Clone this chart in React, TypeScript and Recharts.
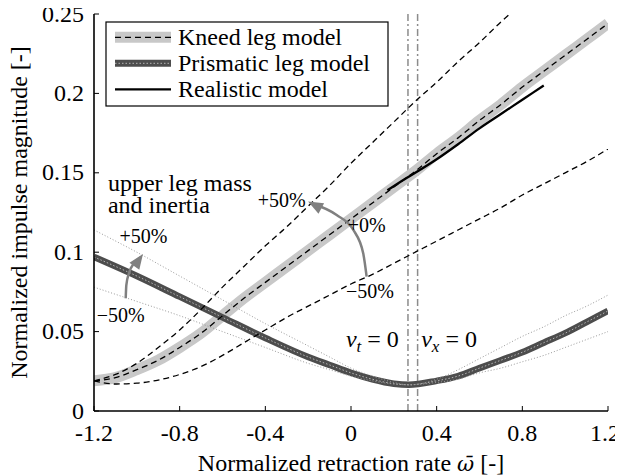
import React from 'react';
import { LineChart, Line, XAxis, YAxis, ReferenceLine, ReferenceDot, Label } from 'recharts';

const FONT = 'Liberation Serif';
const FS = 24;
const FS_SMALL = 20;

// ---- axis ticks ----
const xTicks = [-1.2, -0.8, -0.4, 0, 0.4, 0.8, 1.2];
const xTickLabels = ['-1.2', '-0.8', '-0.4', '0', '0.4', '0.8', '1.2'];
const yTicks = [0, 0.05, 0.1, 0.15, 0.2, 0.25];
const yTickLabels = ['0', '0.05', '0.1', '0.15', '0.2', '0.25'];

// ---- kneed leg model ----
const kneedX = [-1.2, -1.1, -1.0, -0.9, -0.8, -0.7, -0.6, -0.5, -0.4, -0.3, -0.2, -0.1, 0, 0.1, 0.2, 0.3, 0.4, 0.5, 0.6, 0.7, 0.8, 0.9, 1.0, 1.1, 1.2];
const kneedNominal = [0.019, 0.021, 0.026, 0.032, 0.040, 0.049, 0.060, 0.071, 0.081, 0.091, 0.101, 0.111, 0.121, 0.131, 0.141, 0.151, 0.162, 0.172, 0.183, 0.193, 0.204, 0.214, 0.224, 0.234, 0.244];
const kneedPlus50 = [0.019, 0.023, 0.030, 0.040, 0.051, 0.064, 0.078, 0.091, 0.104, 0.116, 0.129, 0.142, 0.156, 0.169, 0.182, 0.195, 0.207, 0.220, 0.232, 0.245, 0.257];
const kneedMinus50 = [0.019, 0.017, 0.0175, 0.0195, 0.023, 0.028, 0.035, 0.043, 0.051, 0.059, 0.066, 0.073, 0.080, 0.086, 0.093, 0.100, 0.107, 0.114, 0.121, 0.128, 0.136, 0.143, 0.150, 0.157, 0.165];

// ---- prismatic leg model ----
const prisX = [-1.2, -1.0, -0.8, -0.6, -0.4, -0.2, -0.1, 0, 0.1, 0.2, 0.27, 0.4, 0.5, 0.6, 0.7, 0.8, 0.9, 1.0, 1.1, 1.2];
const prisNominal = [0.097, 0.085, 0.072, 0.059, 0.046, 0.034, 0.029, 0.024, 0.020, 0.0172, 0.0165, 0.019, 0.022, 0.027, 0.032, 0.037, 0.043, 0.049, 0.056, 0.063];
const prisPlus50 = [0.114, 0.100, 0.085, 0.070, 0.055, 0.041, 0.034, 0.027, 0.022, 0.018, 0.0165, 0.020, 0.026, 0.033, 0.040, 0.047, 0.053, 0.060, 0.066, 0.073];
const prisMinus50 = [0.078, 0.069, 0.060, 0.050, 0.040, 0.030, 0.026, 0.022, 0.019, 0.017, 0.0165, 0.018, 0.020, 0.024, 0.027, 0.031, 0.035, 0.040, 0.045, 0.050];

// ---- realistic model ----
const realX = [0.17, 0.25, 0.3, 0.4, 0.5, 0.6, 0.7, 0.8, 0.9];
const realY = [0.139, 0.146, 0.150, 0.1585, 0.168, 0.178, 0.187, 0.196, 0.205];

// ---- velocity-zero markers ----
const vtZero = 0.266;
const vxZero = 0.311;

// ---- annotation arrows ----
const arrowPrisX = [-1.052, -1.049, -1.037, -1.013, -0.982];
const arrowPrisY = [0.071, 0.0793, 0.0867, 0.093, 0.0968];
const arrowKneedX = [0.073, 0.057, 0.011, -0.067, -0.184];
const arrowKneedY = [0.0846, 0.0993, 0.114, 0.1234, 0.1308];

const legendNames = ['Kneed leg model', 'Prismatic leg model', 'Realistic model'];

const zip = (xs: number[], ys: number[]) =>
  ys.map((y, i) => ({ x: xs[i], y }));

const kneedNomData = zip(kneedX, kneedNominal);
const kneedPlusData = zip(kneedX, kneedPlus50);
const kneedMinusData = zip(kneedX, kneedMinus50);
const prisNomData = zip(prisX, prisNominal);
const prisPlusData = zip(prisX, prisPlus50);
const prisMinusData = zip(prisX, prisMinus50);
const realData = zip(realX, realY);
const arrowPrisData = zip(arrowPrisX, arrowPrisY);
const arrowKneedData = zip(arrowKneedX, arrowKneedY);

const XTick = (props: any) => {
  const { x, y, payload } = props;
  const i = xTicks.indexOf(payload.value);
  const nudge = i === xTicks.length - 1 ? -3 : 0;
  return (
    <text x={x + nudge} y={y + 30} textAnchor="middle" fontFamily={FONT} fontSize={FS} fill="#000">
      {i >= 0 ? xTickLabels[i] : payload.value}
    </text>
  );
};

const YTick = (props: any) => {
  const { x, y, payload } = props;
  const i = yTicks.indexOf(payload.value);
  return (
    <text x={x - 10} y={y + 7.5} textAnchor="end" fontFamily={FONT} fontSize={FS} fill="#000">
      {i >= 0 ? yTickLabels[i] : payload.value}
    </text>
  );
};

const makeArrowDot = (lastIndex: number, angle: number) => (props: any) => {
  const { cx, cy, index } = props;
  if (index !== lastIndex || cx == null) return <g key={`ad${index}`} />;
  return (
    <polygon
      key={`ad${index}`}
      points="4,0 -11,-6 -11,6"
      fill="#808080"
      transform={`translate(${cx},${cy}) rotate(${angle})`}
    />
  );
};

const textShape = (content: React.ReactNode, size: number = FS_SMALL) => (p: any) => (
  <text x={p.cx} y={p.cy} textAnchor="middle" fontFamily={FONT} fontSize={size} fill="#000">
    {content}
  </text>
);

const vLabel = (sub: string) => (
  <>
    <tspan fontStyle="italic">v</tspan>
    <tspan fontStyle="italic" fontSize={17} dy={5}>{sub}</tspan>
    <tspan dy={-5}>{' = 0'}</tspan>
  </>
);

const Legend = () => (
  <svg width={284} height={86} style={{ position: 'absolute', left: 97, top: 13 }}>
    <rect x={1} y={1} width={282} height={84} fill="#fff" stroke="#000" strokeWidth={1.2} />
    <line x1={10} x2={66} y1={16.3} y2={16.3} stroke="#c8c8c8" strokeWidth={11} />
    <line x1={10} x2={66} y1={16.3} y2={16.3} stroke="#000" strokeWidth={1.3} strokeDasharray="6 4" />
    <text x={73} y={24.3} fontFamily={FONT} fontSize={FS}>{legendNames[0]}</text>
    <line x1={10} x2={66} y1={42.3} y2={42.3} stroke="#4d4d4d" strokeWidth={7} />
    <line x1={10} x2={66} y1={42.3} y2={42.3} stroke="#b4b4b4" strokeWidth={1} strokeDasharray="1.5 2" />
    <text x={73} y={50.3} fontFamily={FONT} fontSize={FS}>{legendNames[1]}</text>
    <line x1={10} x2={66} y1={68.3} y2={68.3} stroke="#000" strokeWidth={2.2} />
    <text x={73} y={76.3} fontFamily={FONT} fontSize={FS}>{legendNames[2]}</text>
  </svg>
);

export default function App() {
  const common = { dot: false, activeDot: false, isAnimationActive: false, type: 'monotone' as const, dataKey: 'y', legendType: 'none' as const };
  return (
    <div style={{ position: 'relative', width: 615, height: 468 }}>
      <style>{'html,body{overflow:hidden} .recharts-surface{overflow:visible}'}</style>
      <LineChart width={615} height={468} margin={{ top: 6, right: 15, bottom: 0, left: 0 }}>
        <XAxis
          xAxisId={0}
          type="number"
          dataKey="x"
          domain={[-1.2, 1.2]}
          ticks={xTicks}
          allowDataOverflow
          height={65}
          axisLine={{ stroke: '#000', strokeWidth: 1.6 }}
          tickLine={{ stroke: '#000', strokeWidth: 1 }}
          tickSize={-5}
          tickMargin={5}
          tick={<XTick />}
          interval={0}
        >
          <Label
            content={(p: any) => {
              const vb = p.viewBox || {};
              return (
                <text x={vb.x + vb.width / 2} y={vb.y + 60} textAnchor="middle" fontFamily={FONT} fontSize={FS} fill="#000">
                  Normalized retraction rate{' '}
                  <tspan fontFamily="DejaVu Serif" fontStyle="italic" fontSize={21}>ω̄</tspan>{' '}[-]
                </text>
              );
            }}
          />
        </XAxis>
        <XAxis
          xAxisId="top"
          orientation="top"
          type="number"
          dataKey="x"
          domain={[-1.2, 1.2]}
          ticks={xTicks}
          allowDataOverflow
          height={0}
          axisLine={{ stroke: '#000', strokeWidth: 1.6 }}
          tickLine={{ stroke: '#000', strokeWidth: 1 }}
          tickSize={-5}
          tick={false}
          interval={0}
        />
        <YAxis
          yAxisId={0}
          type="number"
          domain={[0, 0.25]}
          ticks={yTicks}
          allowDataOverflow
          width={86}
          axisLine={{ stroke: '#000', strokeWidth: 1.6 }}
          tickLine={{ stroke: '#000', strokeWidth: 1 }}
          tickSize={-5}
          tickMargin={5}
          tick={<YTick />}
          interval={0}
        >
          <Label
            content={(p: any) => {
              const vb = p.viewBox || {};
              const cx = 19;
              const cy = vb.y + vb.height / 2;
              return (
                <text x={cx} y={cy} transform={`rotate(-90 ${cx} ${cy})`} textAnchor="middle" fontFamily={FONT} fontSize={FS} fill="#000">
                  Normalized impulse magnitude [-]
                </text>
              );
            }}
          />
        </YAxis>
        <YAxis
          yAxisId="right"
          orientation="right"
          type="number"
          domain={[0, 0.25]}
          ticks={yTicks}
          allowDataOverflow
          width={0}
          axisLine={{ stroke: '#000', strokeWidth: 1.6 }}
          tickLine={{ stroke: '#000', strokeWidth: 1 }}
          tickSize={-5}
          tick={false}
          interval={0}
        />

        <ReferenceLine x={vtZero} stroke="#8c8c8c" strokeWidth={1.5} strokeDasharray="7 3 2 3" />
        <ReferenceLine x={vxZero} stroke="#8c8c8c" strokeWidth={1.5} strokeDasharray="7 3 2 3" />

        <Line {...common} data={kneedNomData} stroke="#c8c8c8" strokeWidth={11} />
        <Line {...common} data={prisNomData} stroke="#4d4d4d" strokeWidth={6.5} />
        <Line {...common} data={prisNomData} stroke="#b4b4b4" strokeWidth={1} strokeDasharray="1.5 2" />
        <Line {...common} data={prisPlusData} stroke="#9a9a9a" strokeWidth={1} strokeDasharray="1 2" />
        <Line {...common} data={prisMinusData} stroke="#9a9a9a" strokeWidth={1} strokeDasharray="1 2" />
        <Line {...common} data={kneedNomData} stroke="#000" strokeWidth={1.3} strokeDasharray="6 4" />
        <Line {...common} data={kneedPlusData} stroke="#000" strokeWidth={1.3} strokeDasharray="6 4" />
        <Line {...common} data={kneedMinusData} stroke="#000" strokeWidth={1.3} strokeDasharray="6 4" />
        <Line {...common} data={realData} stroke="#000" strokeWidth={2.3} />

        <Line
          {...common}
          data={arrowPrisData}
          stroke="#808080"
          strokeWidth={2.5}
          dot={makeArrowDot(arrowPrisData.length - 1, -55)}
        />
        <Line
          {...common}
          data={arrowKneedData}
          stroke="#808080"
          strokeWidth={2.5}
          dot={makeArrowDot(arrowKneedData.length - 1, -152)}
        />

        <ReferenceDot
          x={-1.135}
          y={0.1387}
          r={0}
          shape={(p: any) => (
            <text x={p.cx} y={p.cy} fontFamily={FONT} fontSize={FS} fill="#000">
              <tspan x={p.cx}>upper leg mass</tspan>
              <tspan x={p.cx} dy={22.5}>and inertia</tspan>
            </text>
          )}
        />
        <ReferenceDot x={-0.969} y={0.106} r={0} shape={textShape('+50%')} />
        <ReferenceDot x={-1.075} y={0.0562} r={0} shape={textShape('−50%')} />
        <ReferenceDot x={-0.324} y={0.1287} r={0} shape={textShape('+50%')} />
        <ReferenceDot x={0.073} y={0.1125} r={0} shape={textShape('+0%')} />
        <ReferenceDot x={0.089} y={0.071} r={0} shape={textShape('−50%')} />
        <ReferenceDot x={0.1} y={0.0401} r={0} shape={textShape(vLabel('t'), FS)} />
        <ReferenceDot x={0.458} y={0.0401} r={0} shape={textShape(vLabel('x'), FS)} />
      </LineChart>
      <Legend />
    </div>
  );
}
